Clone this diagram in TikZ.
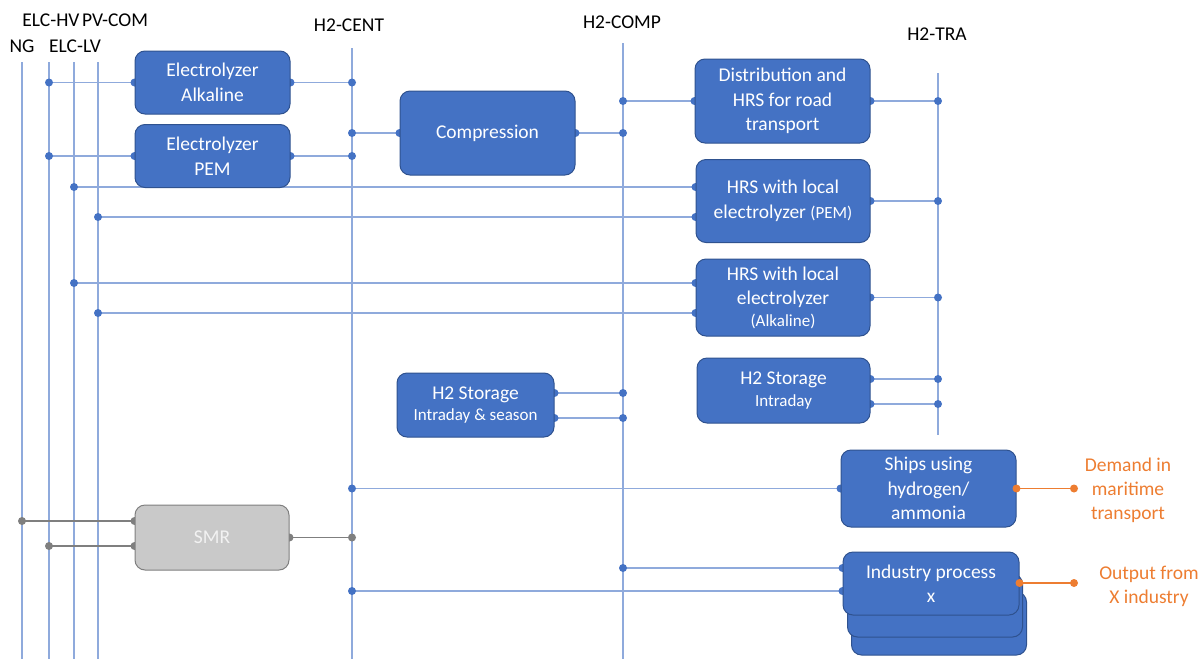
\documentclass[tikz,border=0pt]{standalone}
\usepackage{fontspec}
\setmainfont{Carlito}
\usetikzlibrary{backgrounds}
\definecolor{boxblue}{HTML}{4472C4}
\definecolor{boxedge}{HTML}{2F528F}
\definecolor{busline}{HTML}{8FAADC}
\definecolor{busdot}{HTML}{4472C4}
\definecolor{smrfill}{HTML}{C9C9C9}
\definecolor{smredge}{HTML}{7F7F7F}
\definecolor{outorange}{HTML}{ED7D31}
\newcommand{\sm}{\fontsize{17}{20}\selectfont}
\begin{document}
\begin{tikzpicture}[x=1pt,y=-1pt,
  box/.style={draw=boxedge, line width=1pt, fill=boxblue, rounded corners=10pt,
    text=white, align=center, inner sep=0pt, font=\fontsize{19.5}{24.5}\selectfont},
  graybox/.style={box, draw=smredge, fill=smrfill, text=white!95!black},
  bus/.style={draw=busline, line width=1.2pt},
  link/.style={draw=busline, line width=1.2pt},
  graylink/.style={draw=smredge, line width=1.3pt},
  outlink/.style={draw=outorange, line width=1.2pt},
  buslabel/.style={font=\fontsize{19.5}{22}\selectfont, inner sep=0pt},
  outlabel/.style={font=\fontsize{19.5}{24}\selectfont, text=outorange, align=center, inner sep=0pt}
]
\useasboundingbox (0,0) rectangle (1202,659);

% ---- process blocks ----
\path
  (212.5,82.5)  node[box, minimum width=155pt, minimum height=63pt] (alk) {Electrolyzer\\Alkaline}
  (212.5,156)   node[box, minimum width=155pt, minimum height=63pt] (pem) {Electrolyzer\\PEM}
  (487.5,133)   node[box, minimum width=175pt, minimum height=84pt] (cmp) {Compression}
  (782.5,101)   node[box, minimum width=175pt, minimum height=84pt] (dist) {Distribution and\\HRS for road\\transport}
  (783,201)     node[box, minimum width=174pt, minimum height=83pt] (hrspem) {HRS with local\\electrolyzer {\sm(PEM)}}
  (783,297.5)   node[box, minimum width=174pt, minimum height=77pt] (hrsalk) {HRS with local\\electrolyzer\\[-3pt]{\sm(Alkaline)}}
  (783.5,390.5) node[box, minimum width=173pt, minimum height=65pt] (stin) {H2 Storage\\[-3pt]{\sm Intraday}}
  (475.5,405)   node[box, minimum width=157pt, minimum height=64pt] (stse) {H2 Storage\\[-3pt]{\sm Intraday \& season}}
  (928.5,488.5) node[box, minimum width=175pt, minimum height=77pt] (ships) {Ships using\\hydrogen/\\ammonia}
  (939,623.5)   node[box, minimum width=175pt, minimum height=63pt] (ind3) {}
  (935,605.5)   node[box, minimum width=175pt, minimum height=63pt] (ind2) {}
  (931,583.5)   node[box, minimum width=176pt, minimum height=63pt] (ind) {Industry process\\x}
  (212,537.5)   node[graybox, minimum width=154pt, minimum height=65pt] (smr) {SMR};

% ---- bus bars ----
\coordinate (ng)   at (22,62);   \coordinate (ngB)   at (22,659);
\coordinate (hv)   at (49,62);   \coordinate (hvB)   at (49,659);
\coordinate (lv)   at (74,62);   \coordinate (lvB)   at (74,659);
\coordinate (pv)   at (98,62);   \coordinate (pvB)   at (98,659);
\coordinate (cent) at (352,48);  \coordinate (centB) at (352,659);
\coordinate (comp) at (623,43);  \coordinate (compB) at (623,659);
\coordinate (tra)  at (938,73);  \coordinate (traB)  at (938,435);

\node[buslabel] (lab-hv)   at (51,20)  {ELC-HV};
\node[buslabel] (lab-pv)   at (115,20) {PV-COM};
\node[buslabel] (lab-ng)   at (22,46)  {NG};
\node[buslabel] (lab-lv)   at (75,46)  {ELC-LV};
\node[buslabel] (lab-cent) at (349,25) {H2-CENT};
\node[buslabel] (lab-comp) at (622,22) {H2-COMP};
\node[buslabel] (lab-tra)  at (937,34) {H2-TRA};

% ---- connection points on the blocks ----
\coordinate (hrspem-i1) at ([yshift=14pt]hrspem.west);
\coordinate (hrspem-i2) at ([yshift=-16pt]hrspem.west);
\coordinate (hrsalk-i1) at ([yshift=14.5pt]hrsalk.west);
\coordinate (hrsalk-i2) at ([yshift=-15.5pt]hrsalk.west);
\coordinate (stin-o1)   at ([yshift=11.5pt]stin.east);
\coordinate (stin-o2)   at ([yshift=-13.5pt]stin.east);
\coordinate (stse-o1)   at ([yshift=12pt]stse.east);
\coordinate (stse-o2)   at ([yshift=-13pt]stse.east);
\coordinate (ind-i1)    at ([yshift=15.5pt]ind.west);
\coordinate (ind-i2)    at ([yshift=-7.5pt]ind.west);
\coordinate (ind-o)     at ([yshift=0.5pt]ind.east);
\coordinate (smr-i1)    at ([yshift=16.5pt]smr.west);
\coordinate (smr-i2)    at ([yshift=-8.5pt]smr.west);
\coordinate (ships-end) at (1074,488.5);
\coordinate (ind-end)   at (1074,583);

\begin{scope}[on background layer]
  \foreach \a/\b in {ng/ngB, hv/hvB, lv/lvB, pv/pvB, cent/centB, comp/compB, tra/traB}
    \draw[bus] (\a) -- (\b);
  % inputs: bus bar -> block
  \foreach \bar/\pt in {hv/alk.west, hv/pem.west, cent/cmp.west, comp/dist.west,
                        lv/hrspem-i1, pv/hrspem-i2, lv/hrsalk-i1, pv/hrsalk-i2,
                        cent/ships.west, comp/ind-i1, cent/ind-i2}
  {
    \draw[link] (\bar |- \pt) -- (\pt);
    \fill[busdot] (\bar |- \pt) circle (4pt);
    \fill[busdot] (\pt) circle (4pt);
  }
  % outputs: block -> bus bar
  \foreach \pt/\bar in {alk.east/cent, pem.east/cent, cmp.east/comp, dist.east/tra,
                        hrspem.east/tra, hrsalk.east/tra, stin-o1/tra, stin-o2/tra,
                        stse-o1/comp, stse-o2/comp}
  {
    \draw[link] (\pt) -- (\bar |- \pt);
    \fill[busdot] (\bar |- \pt) circle (4pt);
    \fill[busdot] (\pt) circle (4pt);
  }
  % steam methane reforming (grey)
  \foreach \bar/\pt in {ng/smr-i1, hv/smr-i2}
  {
    \draw[graylink] (\bar |- \pt) -- (\pt);
    \fill[smredge] (\bar |- \pt) circle (4pt);
    \fill[smredge] (\pt) circle (4pt);
  }
  \draw[graylink] (smr.east) -- (cent |- smr.east);
  \fill[smredge] (smr.east) circle (4pt);
  \fill[smredge] (cent |- smr.east) circle (4pt);
\end{scope}

% ---- final demands (orange) ----
\draw[outlink] (ships.east) -- (ships-end);
\fill[outorange] (ships.east) circle (4pt);
\fill[outorange] (ships-end) circle (4pt);
\draw[outlink] (ind-o) -- (ind-end);
\fill[outorange] (ind-o) circle (4pt);
\fill[outorange] (ind-end) circle (4pt);
\node[outlabel] (dem)  at (1128,490)   {Demand in\\maritime\\transport};
\node[outlabel] (outx) at (1149,586.5) {Output from\\X industry};
\end{tikzpicture}
\end{document}
